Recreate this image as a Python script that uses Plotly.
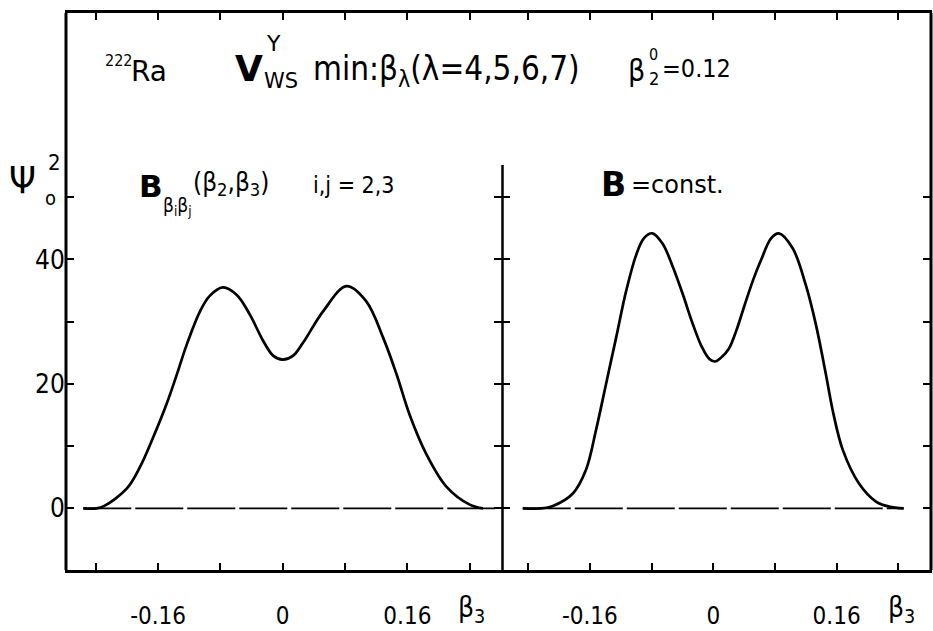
import plotly.graph_objects as go

# ---------------- data ----------------
# left panel: B_{beta_i beta_j}(beta2, beta3)
left_b3 = [-0.256, -0.239, -0.229, -0.200, -0.183, -0.166, -0.149, -0.136, -0.123, -0.106,
           -0.094, -0.077, -0.059, -0.042, -0.025, -0.012, 0.000, 0.013, 0.026, 0.052, 0.082,
           0.107, 0.129, 0.146, 0.163, 0.184, 0.210, 0.240, 0.257]
left_psi = [0.0, 0.0, 0.4, 3.2, 6.7, 11.5, 16.8, 21.5, 26.4, 31.7,
            34.1, 35.5, 34.3, 31.1, 26.9, 24.5, 23.9, 24.5, 26.6, 31.7, 35.7,
            33.3, 27.4, 21.6, 15.0, 8.8, 3.5, 0.6, 0.0]

# right panel: B = const.
right_b3 = [-0.247, -0.225, -0.208, -0.182, -0.165, -0.152, -0.139, -0.126, -0.113, -0.100,
            -0.090, -0.079, -0.066, -0.053, -0.040, -0.027, -0.015, -0.005, 0.002, 0.010,
            0.020, 0.030, 0.040, 0.052, 0.062, 0.075, 0.085, 0.103, 0.120, 0.133,
            0.146, 0.155, 0.168, 0.189, 0.211, 0.228, 0.247]
right_psi = [0.0, 0.0, 0.4, 2.4, 6.2, 12.6, 20.0, 27.4, 34.9, 40.7,
             43.4, 44.2, 42.6, 39.0, 34.6, 29.8, 26.0, 24.0, 23.6, 24.2,
             25.6, 28.6, 32.4, 36.8, 39.9, 43.4, 44.2, 41.8, 35.9, 29.6,
             21.6, 15.7, 9.4, 4.0, 1.1, 0.3, 0.0]

zero_left_x = [-0.256, 0.276]
zero_right_x = [-0.247, 0.247]
zero_y = [0, 0]

x_tickvals = [-0.24, -0.16, -0.08, 0.0, 0.08, 0.16, 0.24]
x_ticktext = ["", "-0.16", "", "0", "", "0.16", ""]
y_tickvals = [0, 10, 20, 30, 40, 50]
y_ticktext = ["0", "", "20", "", "40", ""]

# ---------------- layout geometry ----------------
W, H = 933, 631
L, R, T, B = 66, 1, 13, 57
PW = W - L - R
PH = H - T - B
SPLIT = (503 - L) / PW

FONT = "DejaVu Sans Condensed, Liberation Sans Narrow, DejaVu Sans, sans-serif"
WIDE = "DejaVu Sans, Liberation Sans, sans-serif"


def P(x, y):
    return (x - L) / PW, (H - B - y) / PH


fig = go.Figure()

line_style = dict(color="black", width=2.7)
zero_style = dict(color="black", width=1.6, dash="48px,4px")

fig.add_trace(go.Scatter(x=zero_left_x, y=zero_y, mode="lines", line=zero_style,
                         xaxis="x", yaxis="y", hoverinfo="skip"))
fig.add_trace(go.Scatter(x=zero_right_x, y=zero_y, mode="lines", line=zero_style,
                         xaxis="x2", yaxis="y2", hoverinfo="skip"))
fig.add_trace(go.Scatter(x=left_b3, y=left_psi, mode="lines", line_shape="spline",
                         line=line_style, xaxis="x", yaxis="y"))
fig.add_trace(go.Scatter(x=right_b3, y=right_psi, mode="lines", line_shape="spline",
                         line=line_style, xaxis="x2", yaxis="y2"))

xcommon = dict(
    tickvals=x_tickvals, ticktext=x_ticktext, ticks="inside", ticklen=7, tickwidth=2,
    tickcolor="black", showline=True, linecolor="black", linewidth=3, mirror="ticks",
    showgrid=False, zeroline=False, tickfont=dict(family=FONT, size=24, color="black"),
    ticklabelstandoff=22,
)
ycommon = dict(
    range=[-9.9, 79.6], tickvals=y_tickvals, ticktext=y_ticktext, ticks="inside",
    ticklen=8, tickwidth=2, tickcolor="black", showline=True,
    linecolor="rgba(0,0,0,0)", linewidth=1, mirror="ticks", showgrid=False,
    zeroline=False, tickfont=dict(family=FONT, size=26, color="black"),
)

fig.update_layout(
    width=W, height=H, margin=dict(l=L, r=R, t=T, b=B),
    paper_bgcolor="white", plot_bgcolor="white", showlegend=False,
    xaxis=dict(domain=[0, SPLIT], range=[-0.2782, 0.2821], anchor="y", **xcommon),
    xaxis2=dict(domain=[SPLIT, 1], range=[-0.2733, 0.2824], anchor="y2", **xcommon),
    yaxis=dict(anchor="x", ticklabelstandoff=-5, **ycommon),
    yaxis2=dict(anchor="x2", showticklabels=False, **ycommon),
)

# frame lines (left, right, middle divider)
frame = dict(color="black", width=3)
x0, _ = P(66, 0)
x1, _ = P(932, 0)
xm, _ = P(503, 0)
_, ytop = P(0, 13)
_, ybot = P(0, 574)
_, ymid = P(0, 166)
fig.add_shape(type="line", xref="paper", yref="paper", x0=x0, x1=x0, y0=ybot, y1=ytop, line=frame)
fig.add_shape(type="line", xref="paper", yref="paper", x0=x1, x1=x1, y0=ybot, y1=ytop, line=frame)
fig.add_shape(type="line", xref="paper", yref="paper", x0=xm, x1=xm, y0=ybot, y1=ymid,
              line=dict(color="black", width=2.5))


def txt(x, y, s, size, bold=False, anchor="left", family=FONT):
    px, py = P(x, y)
    if bold:
        s = "<b>" + s + "</b>"
    fig.add_annotation(x=px, y=py, xref="paper", yref="paper", text=s, showarrow=False,
                       xanchor=anchor, yanchor="middle",
                       font=dict(family=family, size=size, color="black"))


# header line
txt(103, 61, "222", 16)
txt(129, 72, "Ra", 28, family=WIDE)
txt(233, 69, "V", 36, bold=True, family=WIDE)
txt(264, 44, "Y", 22, family=WIDE)
txt(262, 81, "WS", 21, family=WIDE)
txt(311, 71, "min:β<sub>λ</sub>(λ=4,5,6,7)", 33)
txt(627, 71, "β", 30)
txt(648, 55, "0", 16)
txt(648, 79, "2", 18)
txt(661, 69, "=0.12", 25)

# panel labels
txt(137, 187, "B", 31, bold=True, family=WIDE)
txt(161, 208, "β<sub>i</sub>β<sub>j</sub>", 19)
txt(191, 185, "(β<sub>2</sub>,β<sub>3</sub>)", 26)
txt(311, 186, "i,j = 2,3", 23)
txt(600, 186, "B", 33, bold=True, family=WIDE)
txt(630, 186, "=const.", 24, family=WIDE)

# y axis title
txt(7, 181, "Ψ", 38)
txt(46, 164, "2", 22)
txt(43, 199, "o", 20)

# x axis titles
txt(456, 614, "β<sub>3</sub>", 28)
txt(887, 614, "β<sub>3</sub>", 28)

fig.write_html("out.html")
